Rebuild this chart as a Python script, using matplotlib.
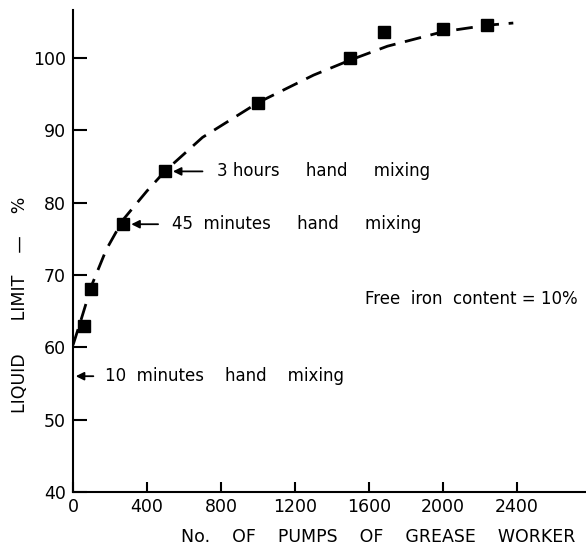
import matplotlib
matplotlib.use('Agg')
import matplotlib.pyplot as plt

# Measured liquid limit against pumps of the grease worker
pumps = [60, 100, 270, 500, 1000, 1500, 1680, 2000, 2240]
liquid_limit = [63, 68, 77, 84.3, 93.7, 100, 103.5, 104, 104.5]

# Hand-drawn trend curve through the points
curve_x = [0, 40, 100, 180, 270, 400, 500, 700, 1000, 1300, 1500, 1700, 2000, 2240, 2380]
curve_y = [60.3, 63.5, 68.5, 73.5, 77.6, 81.6, 84.4, 89.0, 93.8, 97.6, 99.7, 101.6, 103.6, 104.5, 104.8]

x_ticks = [0, 400, 800, 1200, 1600, 2000, 2400]
y_ticks = [40, 50, 60, 70, 80, 90, 100]


def main():
    fig = plt.figure(figsize=(5.86, 5.46), dpi=100)
    ax = fig.add_axes([73 / 586, 54 / 546, 513 / 586, 482 / 546])

    ax.plot(curve_x, curve_y, color='black', lw=2.0, linestyle=(0, (6, 3.5)))
    ax.plot(pumps, liquid_limit, linestyle='none', marker='s', ms=9, color='black')

    ax.set_xlim(0, 2773)
    ax.set_ylim(40, 106.6)

    ax.spines['top'].set_visible(False)
    ax.spines['right'].set_visible(False)
    ax.spines['left'].set_linewidth(1.5)
    ax.spines['bottom'].set_linewidth(1.5)

    ax.set_xticks(x_ticks)
    ax.set_yticks(y_ticks)
    ax.set_xticklabels([str(v) for v in x_ticks])
    ax.set_yticklabels([str(v) for v in y_ticks])
    ax.tick_params(axis='both', direction='in', width=1.5, labelsize=12.5)
    ax.tick_params(axis='x', length=7, pad=4)
    ax.tick_params(axis='y', length=10, pad=5)

    # Axis titles placed as figure text
    fig.text(378 / 586, 1 - 537 / 546, 'No.    OF    PUMPS    OF    GREASE    WORKER',
             fontsize=12.5, ha='center', va='center')
    fig.text(20 / 586, 1 - 305 / 546, 'LIQUID      LIMIT    —    %',
             fontsize=12.5, ha='center', va='center', rotation=90)

    arrow = dict(arrowstyle='-|>', color='black', lw=1.3, mutation_scale=12, shrinkA=0, shrinkB=0)
    ax.annotate('', xy=(540, 84.3), xytext=(700, 84.3), arrowprops=arrow)
    ax.text(780, 84.3, '3 hours     hand     mixing', fontsize=12, va='center')
    ax.annotate('', xy=(315, 77), xytext=(460, 77), arrowprops=arrow)
    ax.text(535, 77, '45  minutes     hand     mixing', fontsize=12, va='center')
    ax.annotate('', xy=(15, 56), xytext=(110, 56), arrowprops=arrow)
    ax.text(175, 56, '10  minutes    hand    mixing', fontsize=12, va='center')

    ax.text(1580, 66.7, 'Free  iron  content = 10%', fontsize=12, va='center', clip_on=False)

    fig.savefig('out.png', dpi=100)


main()
